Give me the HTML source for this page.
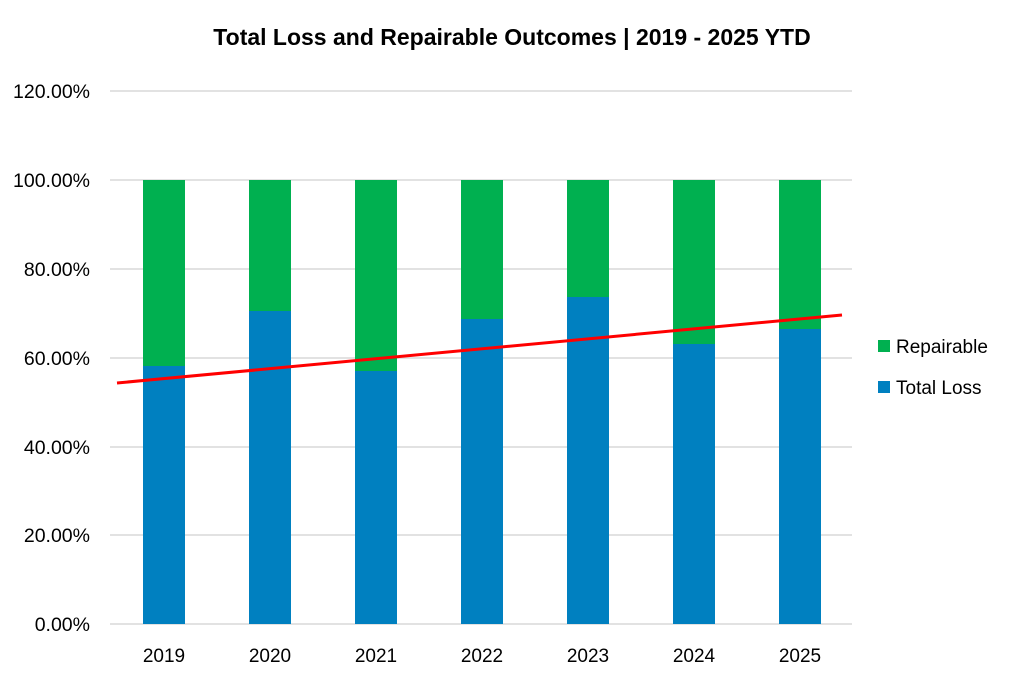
<!DOCTYPE html>
<html><head><meta charset="utf-8"><style>
html,body{margin:0;padding:0;background:#fff;}
svg{display:block;}
text{font-family:"Liberation Sans",sans-serif;}
</style></head><body>
<svg width="1024" height="679" viewBox="0 0 1024 679" xmlns="http://www.w3.org/2000/svg">
<rect width="1024" height="679" fill="#fff"/>
<text x="512" y="45" text-anchor="middle" font-size="23" font-weight="bold" fill="#000">Total Loss and Repairable Outcomes | 2019 - 2025 YTD</text>
<g stroke="#d9d9d9" stroke-width="1.5">
<line x1="110" y1="91" x2="852" y2="91"/>
<line x1="110" y1="180" x2="852" y2="180"/>
<line x1="110" y1="269" x2="852" y2="269"/>
<line x1="110" y1="358" x2="852" y2="358"/>
<line x1="110" y1="447" x2="852" y2="447"/>
<line x1="110" y1="535" x2="852" y2="535"/>
<line x1="110" y1="624" x2="852" y2="624"/>
</g>
<g font-size="19.5" fill="#000" text-anchor="end">
<text x="90" y="98">120.00%</text>
<text x="90" y="187">100.00%</text>
<text x="90" y="276">80.00%</text>
<text x="90" y="365">60.00%</text>
<text x="90" y="454">40.00%</text>
<text x="90" y="542">20.00%</text>
<text x="90" y="631">0.00%</text>
</g>
<g>
<rect x="143" y="180" width="42" height="186" fill="#00b050"/><rect x="143" y="366" width="42" height="258" fill="#0080c0"/>
<rect x="249" y="180" width="42" height="131" fill="#00b050"/><rect x="249" y="311" width="42" height="313" fill="#0080c0"/>
<rect x="355" y="180" width="42" height="191" fill="#00b050"/><rect x="355" y="371" width="42" height="253" fill="#0080c0"/>
<rect x="461" y="180" width="42" height="139" fill="#00b050"/><rect x="461" y="319" width="42" height="305" fill="#0080c0"/>
<rect x="567" y="180" width="42" height="117" fill="#00b050"/><rect x="567" y="297" width="42" height="327" fill="#0080c0"/>
<rect x="673" y="180" width="42" height="164" fill="#00b050"/><rect x="673" y="344" width="42" height="280" fill="#0080c0"/>
<rect x="779" y="180" width="42" height="149" fill="#00b050"/><rect x="779" y="329" width="42" height="295" fill="#0080c0"/>
</g>
<line x1="117" y1="383" x2="842" y2="315" stroke="#ff0000" stroke-width="3"/>
<g font-size="19" fill="#000" text-anchor="middle">
<text x="164" y="662">2019</text>
<text x="270" y="662">2020</text>
<text x="376" y="662">2021</text>
<text x="482" y="662">2022</text>
<text x="588" y="662">2023</text>
<text x="694" y="662">2024</text>
<text x="800" y="662">2025</text>
</g>
<rect x="878" y="340" width="12" height="12" fill="#00b050"/>
<text x="896" y="353" font-size="19" fill="#000">Repairable</text>
<rect x="878" y="381" width="12" height="12" fill="#0080c0"/>
<text x="896" y="394" font-size="19" fill="#000">Total Loss</text>
</svg>
</body></html>
